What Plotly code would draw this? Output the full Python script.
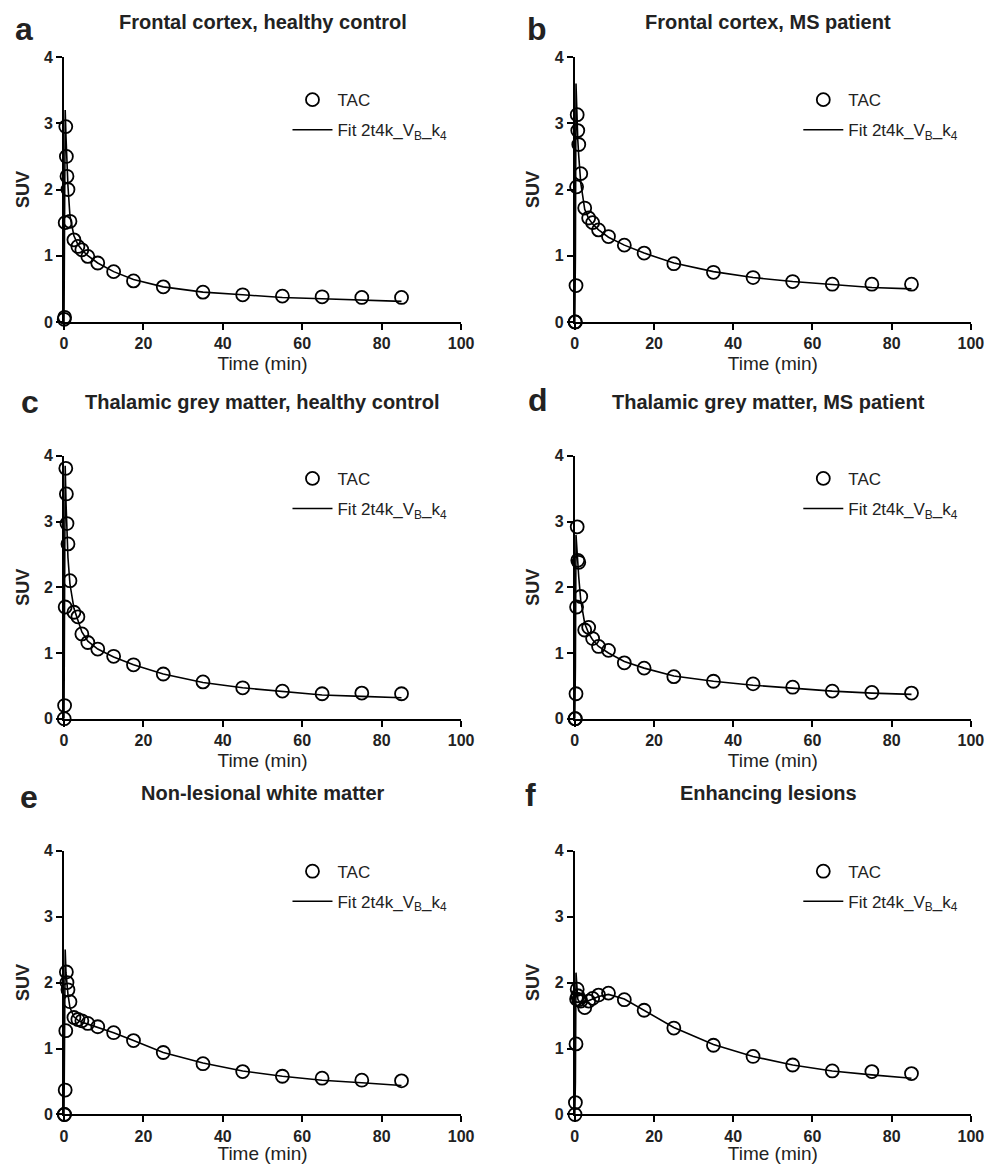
import plotly.graph_objects as go

# ---------------- data ----------------
time_min = [0.05, 0.15, 0.3, 0.45, 0.6, 0.75, 1.0, 1.5, 2.5, 3.5, 4.5, 6, 8.5,
            12.5, 17.5, 25, 35, 45, 55, 65, 75, 85]

tac_a = [0.04, 0.07, 1.50, 2.95, 2.50, 2.20, 2.00, 1.52, 1.24, 1.14, 1.09, 0.99, 0.89,
         0.76, 0.62, 0.53, 0.45, 0.41, 0.39, 0.38, 0.37, 0.37]
tac_b = [0.00, 0.00, 0.55, 2.04, 3.13, 2.89, 2.68, 2.24, 1.72, 1.57, 1.50, 1.39, 1.29,
         1.16, 1.04, 0.88, 0.75, 0.67, 0.61, 0.57, 0.57, 0.57]
tac_c = [0.00, 0.20, 1.70, 3.81, 3.42, 2.97, 2.66, 2.10, 1.62, 1.55, 1.29, 1.16, 1.06,
         0.95, 0.82, 0.68, 0.56, 0.47, 0.42, 0.38, 0.39, 0.38]
tac_d = [0.00, 0.00, 0.38, 1.70, 2.92, 2.41, 2.38, 1.86, 1.35, 1.39, 1.22, 1.10, 1.04,
         0.85, 0.77, 0.64, 0.57, 0.53, 0.48, 0.42, 0.40, 0.39]
tac_e = [0.00, 0.00, 0.37, 1.27, 2.16, 2.00, 1.89, 1.71, 1.47, 1.44, 1.42, 1.38, 1.33,
         1.24, 1.12, 0.94, 0.77, 0.65, 0.58, 0.55, 0.52, 0.51]
tac_f = [0.00, 0.18, 1.07, 1.75, 1.90, 1.80, 1.74, 1.72, 1.62, 1.72, 1.76, 1.81, 1.84,
         1.74, 1.58, 1.31, 1.05, 0.88, 0.75, 0.66, 0.65, 0.62]

fit_time = [0, 0.15, 0.3, 0.5, 0.75, 1.0, 1.5, 2.5, 3.5, 4.5, 6, 8.5, 12.5, 17.5,
            25, 35, 45, 55, 65, 75, 85]
fit_a = [0, 1.2, 3.20, 2.80, 2.40, 2.05, 1.60, 1.30, 1.17, 1.09, 1.00, 0.89, 0.76, 0.64,
         0.53, 0.45, 0.41, 0.37, 0.35, 0.33, 0.31]
fit_b = [0, 1.0, 3.60, 3.10, 2.75, 2.50, 2.10, 1.70, 1.56, 1.48, 1.39, 1.28, 1.16, 1.04,
         0.89, 0.76, 0.67, 0.61, 0.56, 0.52, 0.50]
fit_c = [0, 1.5, 3.85, 3.30, 2.80, 2.45, 2.05, 1.68, 1.50, 1.32, 1.18, 1.06, 0.94, 0.82,
         0.68, 0.55, 0.47, 0.41, 0.36, 0.34, 0.32]
fit_d = [0, 0.8, 2.80, 2.55, 2.35, 2.15, 1.80, 1.45, 1.30, 1.20, 1.10, 1.00, 0.87, 0.77,
         0.65, 0.57, 0.51, 0.46, 0.42, 0.39, 0.37]
fit_e = [0, 0.8, 2.50, 2.15, 1.95, 1.82, 1.62, 1.48, 1.43, 1.40, 1.37, 1.32, 1.24, 1.12,
         0.94, 0.78, 0.66, 0.58, 0.52, 0.48, 0.44]
fit_f = [0, 0.5, 2.15, 1.85, 1.75, 1.72, 1.70, 1.70, 1.72, 1.75, 1.79, 1.82, 1.75, 1.58,
         1.32, 1.06, 0.88, 0.75, 0.66, 0.60, 0.55]

panel_letters = ["a", "b", "c", "d", "e", "f"]
panel_titles = ["Frontal cortex, healthy control", "Frontal cortex, MS patient",
                "Thalamic grey matter, healthy control", "Thalamic grey matter, MS patient",
                "Non-lesional white matter", "Enhancing lesions"]
tac_series = [tac_a, tac_b, tac_c, tac_d, tac_e, tac_f]
fit_series = [fit_a, fit_b, fit_c, fit_d, fit_e, fit_f]
x_ticks = [0, 20, 40, 60, 80, 100]
y_ticks = [0, 1, 2, 3, 4]
tac_name = "TAC"
fit_name = "Fit 2t4k_V<sub>B</sub>_k<sub>4</sub>"

# ---------------- layout geometry (target page pixels) ----------------
PAGE_MARGIN = 8
W, H = 1000 - 2 * PAGE_MARGIN, 1172 - 2 * PAGE_MARGIN
SCALE = 0.985                 # observed page-to-screenshot scale
OFF_X, OFF_Y = 2.0, 8.0       # observed offsets
col_x = [(62, 460), (574, 971)]
row_y = [(57, 322), (456, 719), (851, 1115)]
title_y = [22, 402, 793]
letter_pos = [(22, 29), (536, 29), (28, 402), (537, 400), (27, 797), (530, 795)]
legend_pos = [(286, 82), (798, 82), (286, 461), (798, 461), (286, 854), (798, 854)]
title_cx = [261, 768]

FONT = "Liberation Sans, Arial, sans-serif"

def px_x(p):
    f = (p - OFF_X) / SCALE - PAGE_MARGIN
    return f / W

def px_y(p):
    f = (p - OFF_Y) / SCALE - PAGE_MARGIN
    return 1 - f / H

fig = go.Figure()
layout = {}
annotations = []

for i in range(6):
    r, c = divmod(i, 2)
    k = "" if i == 0 else str(i + 1)
    leg = "legend" if i == 0 else "legend" + str(i + 1)
    fig.add_trace(go.Scatter(
        x=time_min, y=tac_series[i], mode="markers", name=tac_name,
        marker=dict(symbol="circle-open", size=13, color="black", line=dict(width=1.8, color="black")),
        cliponaxis=False, xaxis="x" + k, yaxis="y" + k, legend=leg, legendgroup="tac" + k,
    ))
    fig.add_trace(go.Scatter(
        x=fit_time, y=fit_series[i], mode="lines", name=fit_name,
        line=dict(color="black", width=1.6),
        cliponaxis=False, xaxis="x" + k, yaxis="y" + k, legend=leg, legendgroup="fit" + k,
    ))
    x0, x1 = col_x[c]
    y0, y1 = row_y[r]
    axis_common = dict(
        showline=True, linewidth=2, linecolor="black", ticks="outside", ticklen=6,
        tickwidth=2, tickcolor="black", showgrid=False, zeroline=False,
        tickfont=dict(family=FONT, size=16, color="#222", weight="bold"),
    )
    layout["xaxis" + k] = dict(
        axis_common, domain=[px_x(x0), px_x(x1)], range=[0, 100], tickvals=x_ticks,
        anchor="y" + k,
        title=dict(text="Time (min)", font=dict(family=FONT, size=19, color="#222"), standoff=6),
    )
    layout["yaxis" + k] = dict(
        axis_common, domain=[px_y(y1), px_y(y0)], range=[0, 4], tickvals=y_ticks,
        anchor="x" + k,
        title=dict(text="SUV", font=dict(family=FONT, size=18, color="#222", weight="bold"), standoff=10),
    )
    lx, ly = legend_pos[i]
    layout[leg] = dict(
        x=px_x(lx), y=px_y(ly), xanchor="left", yanchor="top",
        font=dict(family=FONT, size=17, color="#222"), bgcolor="rgba(0,0,0,0)",
        traceorder="grouped", tracegroupgap=5, itemwidth=40,
    )
    annotations.append(dict(
        text="<b>" + panel_titles[i] + "</b>", x=px_x(title_cx[c]), y=px_y(title_y[r]),
        xref="paper", yref="paper", xanchor="center", yanchor="middle", showarrow=False,
        font=dict(family=FONT, size=20, color="#222"),
    ))
    lpx, lpy = letter_pos[i]
    annotations.append(dict(
        text="<b>" + panel_letters[i] + "</b>", x=px_x(lpx), y=px_y(lpy),
        xref="paper", yref="paper", xanchor="center", yanchor="middle", showarrow=False,
        font=dict(family=FONT, size=32, color="#222"),
    ))

fig.update_layout(
    width=W, height=H, margin=dict(l=0, r=0, t=0, b=0),
    paper_bgcolor="white", plot_bgcolor="white", showlegend=True,
    annotations=annotations, **layout,
)

fig.write_html("out.html")
